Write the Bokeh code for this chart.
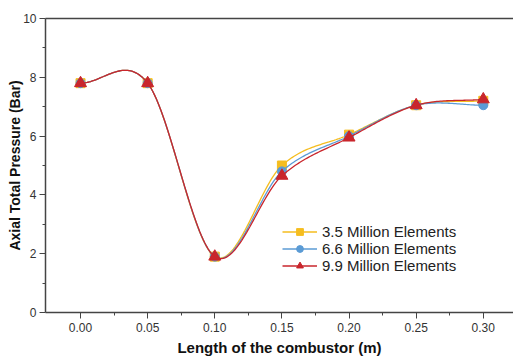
import numpy as np
from bokeh.plotting import figure
from bokeh.models import FixedTicker, LinearAxis, Range1d, Legend, LegendItem
from bokeh.embed import file_html
from bokeh.resources import INLINE

x_vals = [0.00, 0.05, 0.10, 0.15, 0.20, 0.25, 0.30]
y_35 = [7.8, 7.8, 1.9, 5.0, 6.05, 7.05, 7.2]
y_66 = [7.8, 7.8, 1.9, 4.8, 6.0, 7.05, 7.05]
y_99 = [7.8, 7.8, 1.9, 4.65, 5.95, 7.05, 7.25]
labels = ["3.5 Million Elements", "6.6 Million Elements", "9.9 Million Elements"]
colors = ["#F5BD1F", "#5B9BD5", "#C9262C"]
markers = ["square", "circle", "triangle"]
x_ticks = [0.00, 0.05, 0.10, 0.15, 0.20, 0.25, 0.30]
y_ticks = [0, 2, 4, 6, 8, 10]


def catmull_rom(x, y, n=40):
    """Smooth curve drawn through the data points (rendering only)."""
    x = np.asarray(x, float); y = np.asarray(y, float)
    k = len(x)
    m = np.zeros(k)
    m[0] = (y[1] - y[0]) / (x[1] - x[0])
    m[-1] = (y[-1] - y[-2]) / (x[-1] - x[-2])
    for i in range(1, k - 1):
        m[i] = (y[i + 1] - y[i - 1]) / (x[i + 1] - x[i - 1])
    xs_all, ys_all = [], []
    for i in range(k - 1):
        h = x[i + 1] - x[i]
        t = np.linspace(0, 1, n, endpoint=(i == k - 2))
        h00 = 2 * t**3 - 3 * t**2 + 1
        h10 = t**3 - 2 * t**2 + t
        h01 = -2 * t**3 + 3 * t**2
        h11 = t**3 - t**2
        xs_all.append(x[i] + t * h)
        ys_all.append(h00 * y[i] + h10 * h * m[i] + h01 * y[i + 1] + h11 * h * m[i + 1])
    return np.concatenate(xs_all), np.concatenate(ys_all)


p = figure(width=513, height=358, output_backend="svg", toolbar_location=None,
           x_range=Range1d(-0.0261, 0.3225), y_range=Range1d(0, 10),
           min_border_left=45, min_border_right=0, min_border_top=18, min_border_bottom=45)
p.grid.visible = False
p.outline_line_color = None
p.background_fill_color = "white"
p.border_fill_color = "white"

items = []
for ys, lab, col, mk in zip([y_35, y_66, y_99], labels, colors, markers):
    sx, sy = catmull_rom(x_vals, ys)
    r1 = p.line(sx, sy, line_color=col, line_width=1.3)
    size = 12 if mk == "triangle" else 9
    r2 = p.scatter(x_vals, ys, marker=mk, size=size, fill_color=col, line_color=col)
    items.append(LegendItem(label=lab, renderers=[r1, r2]))

legend = Legend(items=items, location=(237, 38), border_line_color=None,
                background_fill_alpha=0, label_text_font="Liberation Sans",
                label_text_font_size="15px", label_text_color="#222",
                glyph_width=35, glyph_height=17, spacing=0, padding=0, margin=0,
                label_standoff=5, label_height=17)
p.add_layout(legend, "center")

for ax in [p.xaxis[0], p.yaxis[0]]:
    ax.axis_line_color = "#444"
    ax.axis_line_width = 1.5
    ax.major_tick_line_color = "#444"
    ax.minor_tick_line_color = "#444"
    ax.major_tick_out = 6
    ax.major_tick_in = 0
    ax.minor_tick_out = 3
    ax.minor_tick_in = 0
    ax.major_label_text_font = "Liberation Sans"
    ax.major_label_text_font_size = "12px"
    ax.major_label_text_color = "#333"
    ax.axis_label_text_font = "Liberation Sans"
    ax.axis_label_text_font_style = "bold"
    ax.axis_label_text_color = "#111"

p.xaxis[0].ticker = FixedTicker(ticks=x_ticks, minor_ticks=[0.025, 0.075, 0.125, 0.175, 0.225, 0.275])
p.xaxis[0].major_label_overrides = {t: f"{t:.2f}" for t in x_ticks}
p.xaxis[0].axis_label = "Length of the combustor (m)"
p.xaxis[0].axis_label_text_font_size = "15px"
p.xaxis[0].major_label_standoff = 4
p.xaxis[0].axis_label_standoff = 4
p.yaxis[0].ticker = FixedTicker(ticks=y_ticks, minor_ticks=[1, 3, 5, 7, 9])
p.yaxis[0].axis_label = "Axial Total Pressure (Bar)"
p.yaxis[0].axis_label_text_font_size = "14px"
p.yaxis[0].major_label_standoff = 3
p.yaxis[0].axis_label_standoff = -3

top = LinearAxis(axis_line_color="#444", axis_line_width=1.5, major_tick_line_color=None,
                 minor_tick_line_color=None, major_label_text_font_size="0px")
top.ticker = FixedTicker(ticks=[])
p.add_layout(top, "above")

open("out.html", "w").write(file_html(p, INLINE))
